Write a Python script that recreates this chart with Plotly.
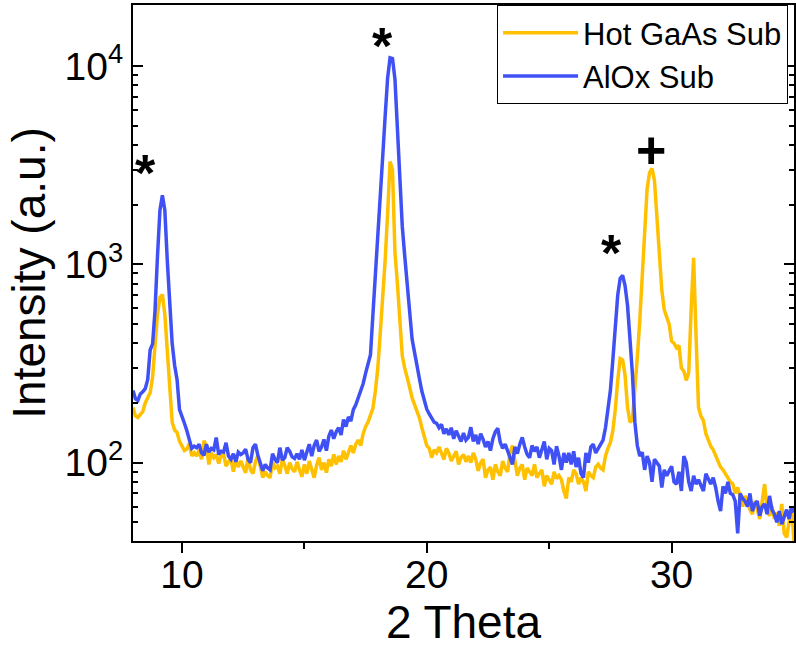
import plotly.graph_objects as go
import numpy as np

# 2-theta scan grid, 0.1 deg steps from 8 to 35
two_theta = np.round(8.0 + 0.1 * np.arange(271), 1)

# Hot GaAs Sub (orange)
gaas = [
    190, 172, 169, 176, 181, 200, 212, 225, 270, 382,
    560, 680, 705, 560, 380, 230, 160, 146, 142, 128,
    120, 115, 117, 125, 108, 112, 108, 116, 104, 129,
    121, 98, 112, 106, 110, 99, 108, 111, 96, 101,
    104, 90, 104, 95, 102, 94, 89, 106, 92, 88,
    101, 109, 96, 84, 90, 86, 84, 101, 94, 96,
    88, 104, 97, 88, 100, 93, 90, 101, 92, 85,
    98, 88, 102, 94, 84, 97, 106, 92, 100, 89,
    104, 96, 110, 98, 108, 101, 115, 104, 112, 122,
    112, 124, 130, 122, 140, 152, 160, 172, 188, 230,
    300, 450, 650, 1050, 1800, 3300, 3000, 1150, 800, 540,
    345, 300, 262, 240, 212, 196, 178, 168, 150, 136,
    122, 118, 106, 116, 112, 120, 110, 104, 118, 112,
    102, 108, 114, 98, 106, 110, 101, 108, 100, 112,
    104, 91, 100, 104, 84, 92, 95, 82, 98, 90,
    86, 102, 94, 90, 112, 122, 100, 86, 94, 98,
    82, 94, 90, 86, 98, 84, 88, 92, 76, 86,
    82, 78, 90, 83, 86, 82, 72, 66, 84, 80,
    92, 88, 78, 84, 80, 72, 90, 86, 84, 95,
    98, 94, 92, 108, 118, 126, 145, 185, 260, 335,
    330, 275, 190, 160, 165, 230, 340, 520, 920, 1600,
    2400, 2900, 3050, 2650, 1700, 1150, 740, 590, 540, 500,
    410, 400, 380, 390, 300, 290, 260, 285, 600, 1080,
    430, 190, 172, 163, 140, 128, 121, 116, 108, 100,
    95, 92, 88, 84, 80, 78, 70, 75, 66, 60,
    68, 62, 58, 55, 64, 58, 52, 64, 78, 58,
    54, 60, 52, 56, 48, 62, 44, 42, 50, 60,
    40,
]

# AlOx Sub (blue)
alox = [
    231, 210, 206, 222, 228, 236, 262, 370, 397, 586,
    1100, 1875, 2230, 1875, 1047, 620, 400, 310, 262, 185,
    168, 158, 145, 128, 118, 121, 119, 124, 112, 109,
    124, 113, 118, 116, 134, 110, 114, 113, 126, 108,
    104, 111, 101, 113, 110, 112, 117, 104, 100, 119,
    124, 109, 100, 91, 98, 94, 92, 111, 104, 100,
    119, 103, 106, 119, 114, 107, 105, 111, 104, 116,
    103, 112, 124, 108, 122, 130, 114, 120, 131, 115,
    136, 146, 132, 143, 150, 138, 165, 152, 170, 162,
    185, 196, 212, 230, 250, 282, 318, 350, 560, 860,
    1300, 2200, 3500, 5600, 8700, 11000, 10900, 8600, 5000, 2600,
    1550, 1100, 810, 560, 420, 360, 315, 265, 229, 205,
    186, 176, 168, 160, 158, 150, 156, 140, 148, 138,
    150, 132, 145, 136, 128, 141, 130, 134, 151, 128,
    138, 124, 140, 131, 120, 128, 115, 132, 143, 149,
    127, 118, 124, 115, 106, 98, 120, 111, 124, 134,
    120, 110, 106, 122, 114, 120, 106, 116, 128, 104,
    118, 115, 98, 121, 108, 92, 112, 100, 112, 98,
    114, 95, 106, 88, 84, 112, 100, 120, 124, 112,
    118, 124, 130, 150, 185, 231, 330, 480, 700, 850,
    880, 780, 620, 420, 280, 160, 122, 108, 113, 92,
    108, 100, 80, 104, 100, 96, 75, 92, 86, 90,
    96, 80, 78, 90, 72, 108, 100, 80, 72, 86,
    78, 82, 76, 72, 88, 82, 78, 84, 75, 64,
    57, 76, 70, 80, 70, 69, 64, 44, 70, 66,
    64, 60, 70, 57, 62, 64, 54, 60, 62, 55,
    68, 58, 55, 50, 57, 49, 54, 58, 52, 60,
    56,
]

# peak markers: (2theta, log10 intensity, symbol)
marks_x = [8.49, 18.18, 27.55, 29.17]
marks_logy = [3.49, 4.131, 3.086, 3.576]
marks_text = ["*", "*", "*", "+"]

x_ticks = [10, 20, 30]
y_ticks = [100, 1000, 10000]
y_ticktext = ["10<sup>2</sup>", "10<sup>3</sup>", "10<sup>4</sup>"]

font = "Liberation Sans, Arial, sans-serif"
orange = "#FFC000"
blue = "#3F51F5"

fig = go.Figure()
fig.add_trace(go.Scatter(x=two_theta, y=gaas, mode="lines", name="Hot GaAs Sub",
                         line=dict(color=orange, width=3.5)))
fig.add_trace(go.Scatter(x=two_theta, y=alox, mode="lines", name="AlOx Sub",
                         line=dict(color=blue, width=3.5)))

for mx, my, mt in zip(marks_x, marks_logy, marks_text):
    fig.add_annotation(x=mx, y=my, text="<b>" + mt + "</b>", showarrow=False,
                       yshift=-6 if mt == "*" else 0,
                       font=dict(size=52, color="black", family=font))

minor_y = [m * 10 ** d for d in range(1, 5) for m in range(2, 10) if m * 10 ** d < 20000]

fig.update_layout(
    width=796, height=656,
    margin=dict(l=133, r=2, t=5, b=115),
    paper_bgcolor="white", plot_bgcolor="white",
    font=dict(family=font, color="black"),
    showlegend=True,
    legend=dict(x=0.991, y=1, xanchor="right", yanchor="top",
                bordercolor="black", borderwidth=1, bgcolor="white",
                font=dict(size=31), itemwidth=75),
    xaxis=dict(range=[8, 35], tickvals=x_ticks, ticks="outside", ticklen=10,
               tickwidth=2, tickcolor="black", showline=True, linecolor="black",
               linewidth=2, mirror=True, showgrid=False, zeroline=False,
               automargin=False, tickfont=dict(size=39), ticklabelstandoff=-12,
               minor=dict(tickvals=[15, 25], ticks="outside", ticklen=6,
                          tickwidth=2, tickcolor="black"),
               title=dict(text="2 Theta", font=dict(size=46), standoff=6)),
    xaxis2=dict(range=[8, 35], overlaying="x", anchor="y", side="top",
                tickvals=x_ticks, ticks="inside", ticklen=10, tickwidth=2,
                tickcolor="black", showticklabels=False, showgrid=False,
                zeroline=False, showline=False, automargin=False,
                minor=dict(tickvals=[15, 25], ticks="inside", ticklen=6,
                           tickwidth=2, tickcolor="black")),
    yaxis=dict(type="log", range=[1.605, 4.308], tickvals=y_ticks,
               ticktext=y_ticktext, ticks="inside", ticklen=10, tickwidth=2,
               tickcolor="black", showline=True, linecolor="black", linewidth=2,
               mirror="ticks", showgrid=False, zeroline=False, automargin=False,
               tickfont=dict(size=39), ticklabelstandoff=0,
               minor=dict(tickvals=minor_y, ticks="inside", ticklen=5,
                          tickwidth=2, tickcolor="black"),
               title=dict(text="Intensity (a.u.)", font=dict(size=46), standoff=5)),
)

# the page's default body margin would push the figure 8px down/right
fix_page = ("document.body.style.margin='0';"
            "document.body.style.overflow='hidden';"
            "Plotly.Plots.resize(document.getElementById('{plot_id}'));")

fig.write_html("out.html", post_script=fix_page,
               config={"displayModeBar": False})
